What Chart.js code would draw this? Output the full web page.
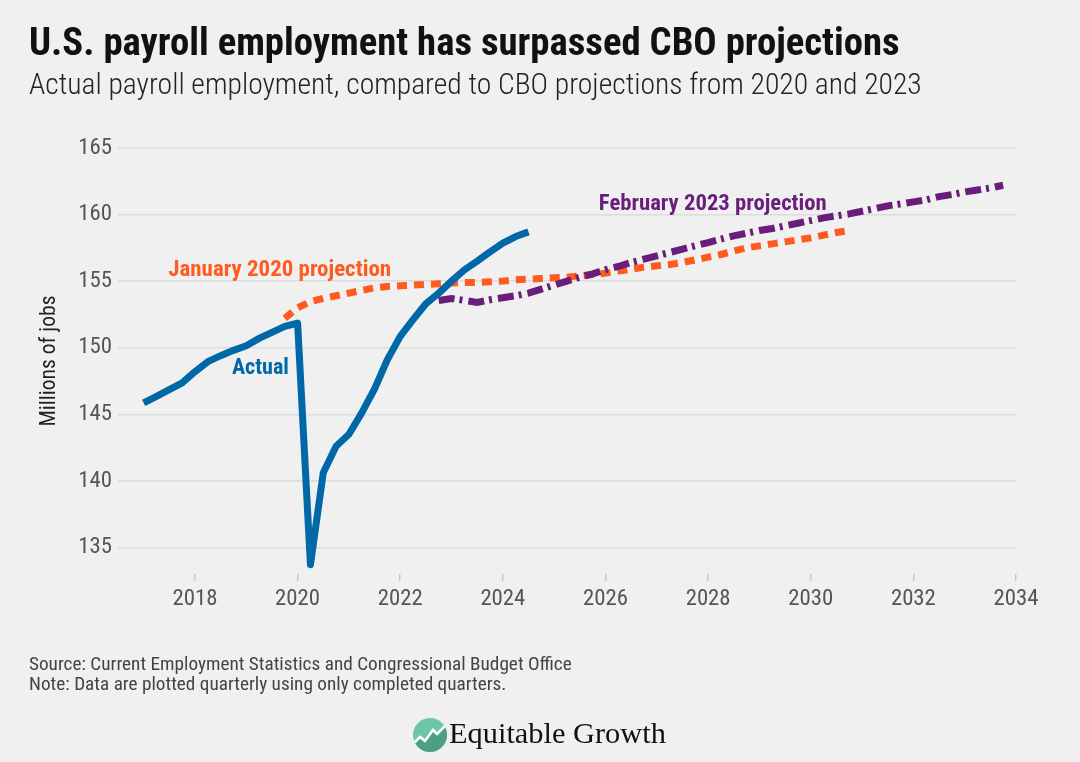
<!DOCTYPE html>
<html>
<head>
<meta charset="utf-8">
<script src="https://cdn.jsdelivr.net/npm/chart.js@4.4.1/dist/chart.umd.min.js"></script>
<style>
  html, body { margin: 0; padding: 0; background: #f0f0f0; }
  canvas { display: block; }
</style>
</head>
<body>
<canvas id="grafico" width="1080" height="762"></canvas>
<script>
// dados trimestrais (milhões de empregos)
const actualStart = '2017Q1';
const actualValues = [
  145.85, 146.35, 146.85, 147.35,
  148.2, 148.95, 149.4, 149.8,
  150.15, 150.7, 151.15, 151.6,
  151.85, 133.7, 140.6, 142.6,
  143.5, 145.1, 146.9, 149.1,
  150.85, 152.1, 153.3, 154.1,
  155.0, 155.85, 156.5, 157.2,
  157.85, 158.35, 158.7
];

const jan2020Start = '2019Q4';
const jan2020Values = [
  152.2,
  153.0, 153.45, 153.7, 153.9,
  154.1, 154.3, 154.5, 154.6,
  154.65, 154.7, 154.75, 154.8,
  154.85, 154.9, 154.9, 154.95,
  155.0, 155.1, 155.15, 155.2,
  155.25, 155.3, 155.4, 155.5,
  155.6, 155.75, 155.9, 156.05,
  156.15, 156.25, 156.4, 156.6,
  156.8, 157.0, 157.25, 157.5,
  157.65, 157.8, 157.95, 158.1,
  158.25, 158.45, 158.65, 158.8
];

const feb2023Start = '2022Q4';
const feb2023Values = [
  153.55,
  153.7, 153.55, 153.4, 153.6,
  153.75, 153.9, 154.1, 154.4,
  154.7, 155.0, 155.3, 155.55,
  155.85, 156.1, 156.4, 156.65,
  156.9, 157.15, 157.4, 157.65,
  157.9, 158.15, 158.4, 158.6,
  158.8, 158.95, 159.15, 159.35,
  159.55, 159.75, 159.9, 160.05,
  160.25, 160.45, 160.65, 160.8,
  160.95, 161.1, 161.35, 161.5,
  161.7, 161.85, 162.0, 162.2
];

const xTicks = [2018, 2020, 2022, 2024, 2026, 2028, 2030, 2032, 2034];
const yTicks = [135, 140, 145, 150, 155, 160, 165];

const titulo = 'U.S. payroll employment has surpassed CBO projections';
const subtitulo = 'Actual payroll employment, compared to CBO projections from 2020 and 2023';
const tituloY = 'Millions of jobs';
const fonte = 'Source: Current Employment Statistics and Congressional Budget Office';
const nota = 'Note: Data are plotted quarterly using only completed quarters.';

const AZUL = '#0068a6';
const LARANJA = '#ff5a1f';
const ROXO = '#6b1d7b';
const FAM = "'Roboto Condensed', 'Liberation Sans Narrow', 'DejaVu Sans Condensed', Roboto, sans-serif";
const SERIF = "'Liberation Serif', 'DejaVu Serif', serif";

// tamanho de fonte para ocupar uma largura
const med = document.createElement('canvas').getContext('2d');
function tamanho(texto, peso, familia, largura) {
  med.font = peso + ' 100px ' + familia;
  return 100 * largura / med.measureText(texto).width;
}

function trimestre(q) {
  const ano = parseInt(q.slice(0, 4));
  const n = parseInt(q.slice(5));
  return ano + (n - 1) / 4;
}
function pontos(inicio, valores) {
  const x0 = trimestre(inicio);
  return valores.map((v, i) => ({ x: x0 + i * 0.25, y: v }));
}

const tamTick = tamanho('2018', 'normal', FAM, 45);

const rotulos = [
  { texto: 'Actual', x: 2018.72, y: 148.05, cor: AZUL, largura: 57 },
  { texto: 'January 2020 projection', x: 2017.48, y: 155.4, cor: LARANJA, largura: 223 },
  { texto: 'February 2023 projection', x: 2025.87, y: 160.35, cor: ROXO, largura: 228 }
];

const textos = {
  id: 'textos',
  beforeDraw(chart) {
    const ctx = chart.ctx;
    ctx.save();
    ctx.fillStyle = '#f0f0f0';
    ctx.fillRect(0, 0, chart.width, chart.height);
    ctx.restore();
  },
  afterDatasetsDraw(chart) {
    const ctx = chart.ctx;
    const { x, y } = chart.scales;
    ctx.save();
    ctx.textBaseline = 'alphabetic';
    ctx.textAlign = 'left';
    rotulos.forEach(r => {
      ctx.font = 'bold ' + tamanho(r.texto, 'bold', FAM, r.largura) + 'px ' + FAM;
      ctx.fillStyle = r.cor;
      ctx.fillText(r.texto, x.getPixelForValue(r.x), y.getPixelForValue(r.y));
    });
    ctx.restore();
  },
  afterDraw(chart) {
    const ctx = chart.ctx;
    ctx.save();
    ctx.textBaseline = 'alphabetic';
    ctx.textAlign = 'left';

    ctx.fillStyle = '#111';
    ctx.font = 'bold ' + tamanho(titulo, 'bold', FAM, 871) + 'px ' + FAM;
    ctx.fillText(titulo, 29, 55);

    ctx.fillStyle = '#222';
    ctx.font = '300 ' + tamanho(subtitulo, '300', FAM, 893) + 'px ' + FAM;
    ctx.fillText(subtitulo, 29, 94);

    ctx.fillStyle = '#444';
    ctx.font = 'normal ' + tamanho(fonte, 'normal', FAM, 543) + 'px ' + FAM;
    ctx.fillText(fonte, 29, 670);
    ctx.fillText(nota, 29, 690);

    // titulo do eixo y
    ctx.save();
    ctx.translate(55, 361);
    ctx.rotate(-Math.PI / 2);
    ctx.textAlign = 'center';
    ctx.fillStyle = '#222';
    ctx.font = 'normal ' + tamanho(tituloY, 'normal', FAM, 131) + 'px ' + FAM;
    ctx.fillText(tituloY, 0, 0);
    ctx.restore();

    // logo
    const cx = 430, cy = 735, r = 17;
    ctx.save();
    ctx.beginPath();
    ctx.arc(cx, cy, r, 0, Math.PI * 2);
    ctx.clip();
    ctx.fillStyle = '#6dc6a6';
    ctx.fillRect(cx - r, cy - r, 2 * r, 2 * r);
    const zig = [[412, 745], [420, 737], [425, 741], [433, 730], [437, 734], [448, 723]];
    ctx.beginPath();
    ctx.moveTo(zig[0][0], zig[0][1]);
    zig.forEach(p => ctx.lineTo(p[0], p[1]));
    ctx.lineTo(448, 753);
    ctx.lineTo(412, 753);
    ctx.closePath();
    ctx.fillStyle = '#4e9e86';
    ctx.fill();
    ctx.beginPath();
    ctx.moveTo(zig[0][0], zig[0][1]);
    zig.forEach(p => ctx.lineTo(p[0], p[1]));
    ctx.strokeStyle = '#ffffff';
    ctx.lineWidth = 2.5;
    ctx.stroke();
    ctx.restore();

    ctx.fillStyle = '#111';
    ctx.font = 'normal ' + tamanho('Equitable Growth', 'normal', SERIF, 217) + 'px ' + SERIF;
    ctx.fillText('Equitable Growth', 449, 743);
    ctx.restore();
  }
};

new Chart(document.getElementById('grafico'), {
  type: 'line',
  data: {
    datasets: [{
      label: 'Actual',
      data: pontos(actualStart, actualValues),
      borderColor: AZUL,
      borderWidth: 7,
      borderJoinStyle: 'round',
      pointRadius: 0
    }, {
      label: 'February 2023 projection',
      data: pontos(feb2023Start, feb2023Values),
      borderColor: ROXO,
      borderWidth: 7,
      borderDash: [16, 5, 3, 6],
      pointRadius: 0
    }, {
      label: 'January 2020 projection',
      data: pontos(jan2020Start, jan2020Values),
      borderColor: LARANJA,
      borderWidth: 7,
      borderDash: [10, 7],
      pointRadius: 0
    }]
  },
  options: {
    responsive: false,
    animation: false,
    layout: { padding: { top: 148, right: 64, bottom: 128, left: 0 } },
    plugins: { legend: { display: false }, tooltip: { enabled: false } },
    scales: {
      x: {
        type: 'linear',
        min: 2016.5,
        max: 2034,
        afterBuildTicks: a => { a.ticks = xTicks.map(v => ({ value: v })); },
        afterFit: s => { s.height = 60; },
        grid: { drawOnChartArea: false, color: '#c8c8c8', lineWidth: 1.5, tickLength: 7 },
        border: { display: false },
        ticks: {
          autoSkip: false, maxRotation: 0, padding: 5,
          color: '#555', font: { family: FAM, size: tamTick },
          callback: v => String(v)
        }
      },
      y: {
        min: 133,
        max: 165,
        afterBuildTicks: a => { a.ticks = yTicks.map(v => ({ value: v })); },
        afterFit: s => { s.width = 118; },
        grid: { color: '#dcdcdc', lineWidth: 1.5, drawTicks: false },
        border: { display: false },
        ticks: {
          padding: 6,
          color: '#555', font: { family: FAM, size: tamTick },
          callback: v => String(v)
        }
      }
    }
  },
  plugins: [textos]
});
</script>
</body>
</html>
